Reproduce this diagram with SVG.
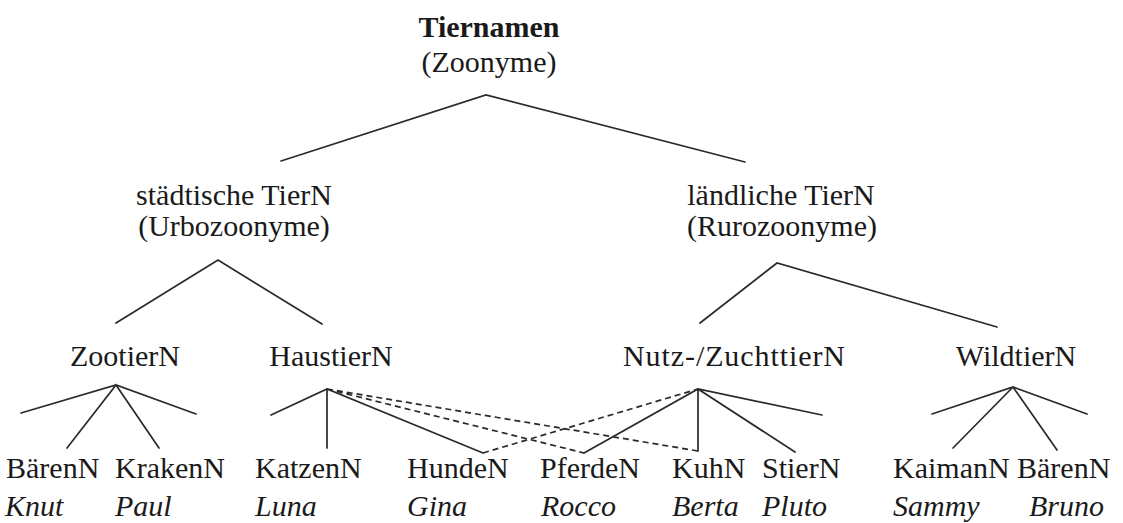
<svg xmlns="http://www.w3.org/2000/svg" width="1123" height="523" viewBox="0 0 1123 523">
<style>
text{font-family:"Liberation Serif","Times New Roman",serif;font-size:30px;fill:#1a1a1a}
.m{text-anchor:middle}
.b{font-weight:bold}
.i{font-style:italic}
.l{stroke:#2a2a2a;stroke-width:1.7;fill:none;stroke-linecap:round}
.d{stroke:#2a2a2a;stroke-width:1.7;fill:none;stroke-dasharray:6 4}
</style>
<rect width="1123" height="523" fill="#fff"/>
<g id="connectors">
<path class="l" d="M281 161L486 95L745 162"/>
<path class="l" d="M116 323L218 260L322 324"/>
<path class="l" d="M700 323L777 263L997 327"/>
<path class="l" d="M21 413L116 385L196 414M67 448L116 385L159 448"/>
<path class="l" d="M271 415L327 389L483 453M327 389V448"/>
<path class="d" d="M327 389L584 453M327 389L698 451"/>
<path class="d" d="M483 453L698 389"/>
<path class="l" d="M584 453L698 389L822 415M698 389V451M698 389L795 452"/>
<path class="l" d="M932 414L1013 387L1087 414M953 448L1013 387L1057 450"/>
</g>
<g id="root"><text class="m b" x="489" y="37">Tiernamen</text><text class="m" x="489" y="72">(Zoonyme)</text></g>
<g id="urbo"><text class="m" x="234" y="205">städtische TierN</text><text class="m" x="234" y="236">(Urbozoonyme)</text></g>
<g id="ruro"><text class="m" x="781" y="205">ländliche TierN</text><text class="m" x="782" y="236">(Rurozoonyme)</text></g>
<g id="zootier"><text class="m" x="125" y="366">ZootierN</text></g>
<g id="haustier"><text class="m" x="331" y="366">HaustierN</text></g>
<g id="nutztier"><text class="m" x="734" y="366" textLength="222" lengthAdjust="spacing">Nutz-/ZuchttierN</text></g>
<g id="wildtier"><text class="m" x="1016" y="366">WildtierN</text></g>
<g id="baeren1"><text x="6" y="478">BärenN</text><text class="i" x="5" y="516">Knut</text></g>
<g id="kraken"><text x="115" y="478">KrakenN</text><text class="i" x="115" y="516">Paul</text></g>
<g id="katzen"><text x="255" y="478">KatzenN</text><text class="i" x="255" y="516">Luna</text></g>
<g id="hunde"><text x="407" y="478">HundeN</text><text class="i" x="407" y="516">Gina</text></g>
<g id="pferde"><text x="540" y="478">PferdeN</text><text class="i" x="541" y="516">Rocco</text></g>
<g id="kuh"><text x="672" y="478">KuhN</text><text class="i" x="672" y="516">Berta</text></g>
<g id="stier"><text x="762" y="478">StierN</text><text class="i" x="762" y="516">Pluto</text></g>
<g id="kaiman"><text x="893" y="478">KaimanN</text><text class="i" x="893" y="516">Sammy</text></g>
<g id="baeren2"><text x="1017" y="478">BärenN</text><text class="i" x="1029" y="516">Bruno</text></g>
</svg>
